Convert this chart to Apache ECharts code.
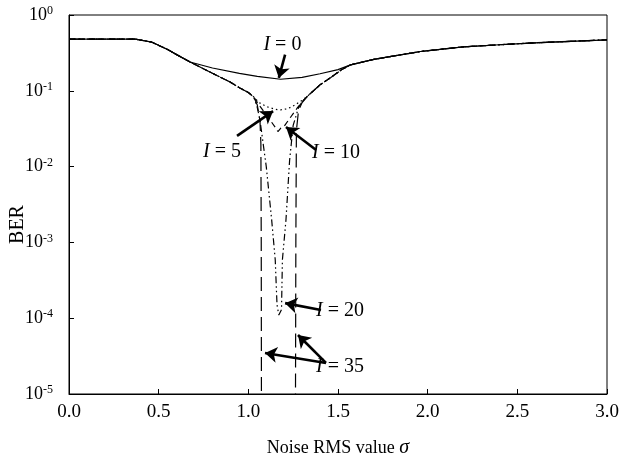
<!DOCTYPE html>
<html>
<head>
<meta charset="utf-8">
<script src="https://cdn.jsdelivr.net/npm/echarts@6/dist/echarts.min.js"></script>
<style>
  html, body { margin: 0; padding: 0; background: #fff; }
  #chart { width: 621px; height: 466px; }
</style>
</head>
<body>
<div id="chart"></div>
<script>
// x ticks
var xTicks = [0, 0.5, 1.0, 1.5, 2.0, 2.5, 3.0];

// I = 0 curve (sigma, BER)
var berI0 = [[0, 0.48], [0.1, 0.48], [0.2, 0.48], [0.3, 0.48], [0.37, 0.48], [0.46, 0.44], [0.55, 0.35],
  [0.6, 0.3], [0.675, 0.24], [0.8, 0.2], [0.95, 0.17], [1.05, 0.155], [1.18, 0.142], [1.3, 0.15],
  [1.4, 0.168], [1.5, 0.19], [1.57, 0.22], [1.7, 0.26], [1.96, 0.33], [2.2, 0.38], [2.4, 0.405],
  [2.6, 0.43], [2.8, 0.45], [3.0, 0.47]];

// common part shared by the I >= 5 curves
var envLeft = [[0, 0.48], [0.1, 0.48], [0.2, 0.48], [0.3, 0.48], [0.37, 0.48], [0.46, 0.44], [0.55, 0.35],
  [0.6, 0.3], [0.675, 0.24], [0.8, 0.17], [0.9, 0.13], [0.95, 0.11], [1.0, 0.095], [1.03, 0.083]];
var envRight = [[1.33, 0.085], [1.4, 0.12], [1.46, 0.15], [1.52, 0.19], [1.57, 0.22], [1.7, 0.26],
  [1.96, 0.33], [2.2, 0.38], [2.4, 0.405], [2.6, 0.43], [2.8, 0.45], [3.0, 0.47]];

// middle parts of each curve
var midI5 = [[1.06, 0.07], [1.1, 0.062], [1.15, 0.057], [1.18, 0.056], [1.22, 0.058], [1.26, 0.065], [1.3, 0.075]];
var midI10 = [[1.06, 0.065], [1.1, 0.048], [1.125, 0.04], [1.15, 0.033], [1.165, 0.029], [1.18, 0.032],
  [1.2, 0.034], [1.23, 0.043], [1.27, 0.058], [1.3, 0.072]];
var midI20 = [[1.05, 0.06], [1.065, 0.041], [1.1, 0.01], [1.13, 0.002], [1.15, 5.9e-4], [1.16, 1.5e-4],
  [1.17, 1.1e-4], [1.185, 1.3e-4], [1.19, 5.9e-4], [1.21, 0.002], [1.23, 0.012], [1.25, 0.035],
  [1.28, 0.06], [1.3, 0.072]];
var midI35 = [[1.05, 0.065], [1.065, 0.04], [1.07, 0.02], [1.072, 1e-3], [1.073, 1e-5], [1.075, 1e-7],
  [1.26, 1e-7], [1.263, 1e-5], [1.265, 1e-3], [1.268, 0.03], [1.28, 0.055], [1.3, 0.07]];

// annotations: label position, arrow tails and heads (data coords)
var labels = [
  { text: '0', pos: [1.19, 0.40], arrows: [[[1.205, 0.30], [1.17, 0.148]]] },
  { text: '5', pos: [0.853, 0.0156], arrows: [[[0.937, 0.0254], [1.138, 0.054]]] },
  { text: '10', pos: [1.489, 0.0151], arrows: [[[1.378, 0.0166], [1.21, 0.0333]]] },
  { text: '20', pos: [1.511, 1.24e-4], arrows: [[[1.405, 1.28e-4], [1.205, 1.58e-4]]] },
  { text: '35', pos: [1.511, 2.27e-5], arrows: [[[1.433, 2.57e-5], [1.093, 3.47e-5]], [[1.433, 2.57e-5], [1.277, 6e-5]]] }
];

var font = 'Liberation Serif';
var chart = echarts.init(document.getElementById('chart'));

function curve(data, dash) {
  return {
    type: 'line', data: data, symbol: 'none', clip: true, silent: true,
    lineStyle: { color: '#000', width: 1.2, type: dash }
  };
}

var arrowData = [];
labels.forEach(function (l) {
  l.arrows.forEach(function (a) { arrowData.push({ coords: a }); });
});

chart.setOption({
  backgroundColor: '#fff',
  animation: false,
  grid: { left: 69, right: 14, top: 15, bottom: 72, outerBoundsMode: 'none', containLabel: false,
    show: true, borderColor: '#000', borderWidth: 1 },
  xAxis: {
    type: 'value', min: 0, max: 3, interval: 0.5,
    name: '{n|Noise RMS value }{s|σ}', nameLocation: 'middle', nameGap: 44, nameMoveOverlap: false,
    nameTextStyle: { rich: { n: { fontFamily: font, fontSize: 18, color: '#000' }, s: { fontFamily: font, fontSize: 20, fontStyle: 'italic', color: '#000' } } },
    axisLine: { lineStyle: { color: '#000', width: 1 } },
    axisTick: { inside: true, length: 5, lineStyle: { color: '#000' } },
    axisLabel: { margin: 9, color: '#000', fontFamily: font, fontSize: 19, formatter: function (v) { return v.toFixed(1); } },
    splitLine: { show: false }
  },
  yAxis: {
    type: 'log', logBase: 10, min: 1e-5, max: 1,
    name: 'BER', nameLocation: 'middle', nameGap: 41, nameMoveOverlap: false,
    nameTextStyle: { fontFamily: font, fontSize: 20, color: '#000', padding: [0, 40, 0, 0] },
    axisLine: { show: true, lineStyle: { color: '#000', width: 1 } },
    axisTick: { inside: true, length: 5, lineStyle: { color: '#000' } },
    minorTick: { show: false },
    axisLabel: {
      margin: 16, color: '#000',
      formatter: function (v) { return '{b|10}{s|' + Math.round(Math.log10(v)) + '}'; },
      rich: {
        b: { fontFamily: font, fontSize: 18, color: '#000', lineHeight: 20 },
        s: { fontFamily: font, fontSize: 12, color: '#000', verticalAlign: 'top', lineHeight: 20, padding: [0, 0, 7, 0] }
      }
    },
    splitLine: { show: false }
  },
  series: [
    curve(envLeft.concat(midI35, envRight), [14, 6]),
    curve(envLeft.concat(midI20, envRight), [7, 3, 1.5, 3, 1.5, 3]),
    curve(envLeft.concat(midI10, envRight), [6, 4]),
    curve(envLeft.concat(midI5, envRight), [1.5, 3]),
    curve(berI0, 'solid'),
    {
      type: 'lines', coordinateSystem: 'cartesian2d', silent: true,
      symbol: ['none', 'arrow'], symbolSize: [0, 12],
      lineStyle: { color: '#000', width: 2.6, opacity: 1 },
      data: arrowData
    },
    {
      type: 'scatter', symbolSize: 0, silent: true,
      itemStyle: { color: '#000', opacity: 1 },
      data: labels.map(function (l) { return { value: l.pos, name: l.text }; }),
      label: {
        show: true, position: [0, 0], align: 'center', verticalAlign: 'middle',
        color: '#000', textBorderWidth: 0,
        formatter: function (p) { return '{i|I}{t| = ' + p.name + '}'; },
        rich: {
          i: { fontFamily: font, fontSize: 20, fontStyle: 'italic', color: '#000' },
          t: { fontFamily: font, fontSize: 20, color: '#000' }
        }
      }
    }
  ]
});
</script>
</body>
</html>
